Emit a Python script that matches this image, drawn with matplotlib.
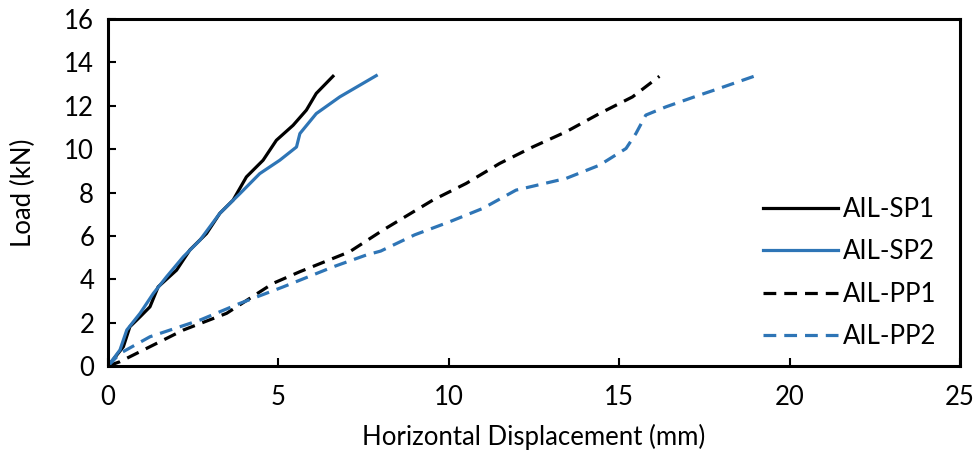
import matplotlib
matplotlib.use("Agg")
import matplotlib.pyplot as plt

plt.rcParams.update({
    "font.family": ["Lato", "DejaVu Sans"],
    "font.size": 18.5,
})

# ── Data ───────────────────────────────────────────────────────
sp1_x = [0, 0.45, 0.64, 0.94, 1.23, 1.47, 2.01, 2.40, 2.89, 3.28, 3.67, 4.06, 4.55, 4.94, 5.43, 5.82, 6.11, 6.60]
sp1_y = [0, 0.89, 1.81, 2.27, 2.73, 3.65, 4.42, 5.35, 6.11, 7.04, 7.65, 8.72, 9.49, 10.41, 11.10, 11.80, 12.57, 13.36]

sp2_x = [0, 0.35, 0.55, 0.94, 1.33, 1.72, 2.21, 2.70, 3.28, 3.87, 4.45, 5.04, 5.53, 5.63, 6.11, 6.80, 7.87]
sp2_y = [0, 0.74, 1.66, 2.43, 3.35, 4.12, 5.04, 5.81, 7.04, 7.95, 8.87, 9.49, 10.10, 10.72, 11.64, 12.41, 13.39]

pp1_x = [0, 0.35, 1.23, 2.21, 3.48, 4.84, 5.63, 7.09, 8.07, 9.53, 10.51, 11.49, 12.46, 13.44, 14.42, 15.39, 16.18]
pp1_y = [0, 0.20, 0.89, 1.66, 2.43, 3.81, 4.35, 5.27, 6.27, 7.65, 8.42, 9.34, 10.10, 10.80, 11.64, 12.41, 13.36]

pp2_x = [0, 0.35, 1.23, 2.70, 3.87, 5.14, 6.60, 7.58, 8.00, 9.00, 10.02, 11.00, 11.97, 13.44, 14.42, 15.20, 15.49, 15.78, 16.37, 17.35, 17.84, 19.01]
pp2_y = [0, 0.58, 1.35, 2.12, 2.89, 3.65, 4.57, 5.12, 5.30, 6.05, 6.65, 7.27, 8.11, 8.65, 9.26, 10.03, 10.72, 11.57, 11.95, 12.49, 12.75, 13.39]

BLUE = "#2E75B6"

fig = plt.figure(figsize=(9.76, 4.53), dpi=100)
ax = fig.add_axes([0.1107, 0.192, 0.8729, 0.766])

lw = 2.3
ax.plot(sp1_x, sp1_y, color="black", lw=lw, label="AIL-SP1")
ax.plot(sp2_x, sp2_y, color=BLUE, lw=lw, label="AIL-SP2")
ax.plot(pp1_x, pp1_y, color="black", lw=lw, dashes=(4, 2.5), label="AIL-PP1")
ax.plot(pp2_x, pp2_y, color=BLUE, lw=lw, dashes=(4, 2.5), label="AIL-PP2")

ax.set_xlim(0, 25)
ax.set_ylim(0, 16)
ax.set_xticks(range(0, 26, 5))
ax.set_yticks(range(0, 17, 2))
ax.tick_params(direction="in", length=6, width=1.5, pad=10)
ax.tick_params(axis="x", pad=14)
for s in ax.spines.values():
    s.set_linewidth(2.2)

ax.set_xlabel("Horizontal Displacement (mm)", labelpad=10)
ax.set_ylabel("Load (kN)", labelpad=20)

ax.legend(loc="center left", bbox_to_anchor=(0.769, 0.268), frameon=False,
          handlelength=2.9, handletextpad=0.2, labelspacing=0.68,
          borderpad=0, borderaxespad=0)

fig.savefig("out.png", dpi=100, facecolor="white")
